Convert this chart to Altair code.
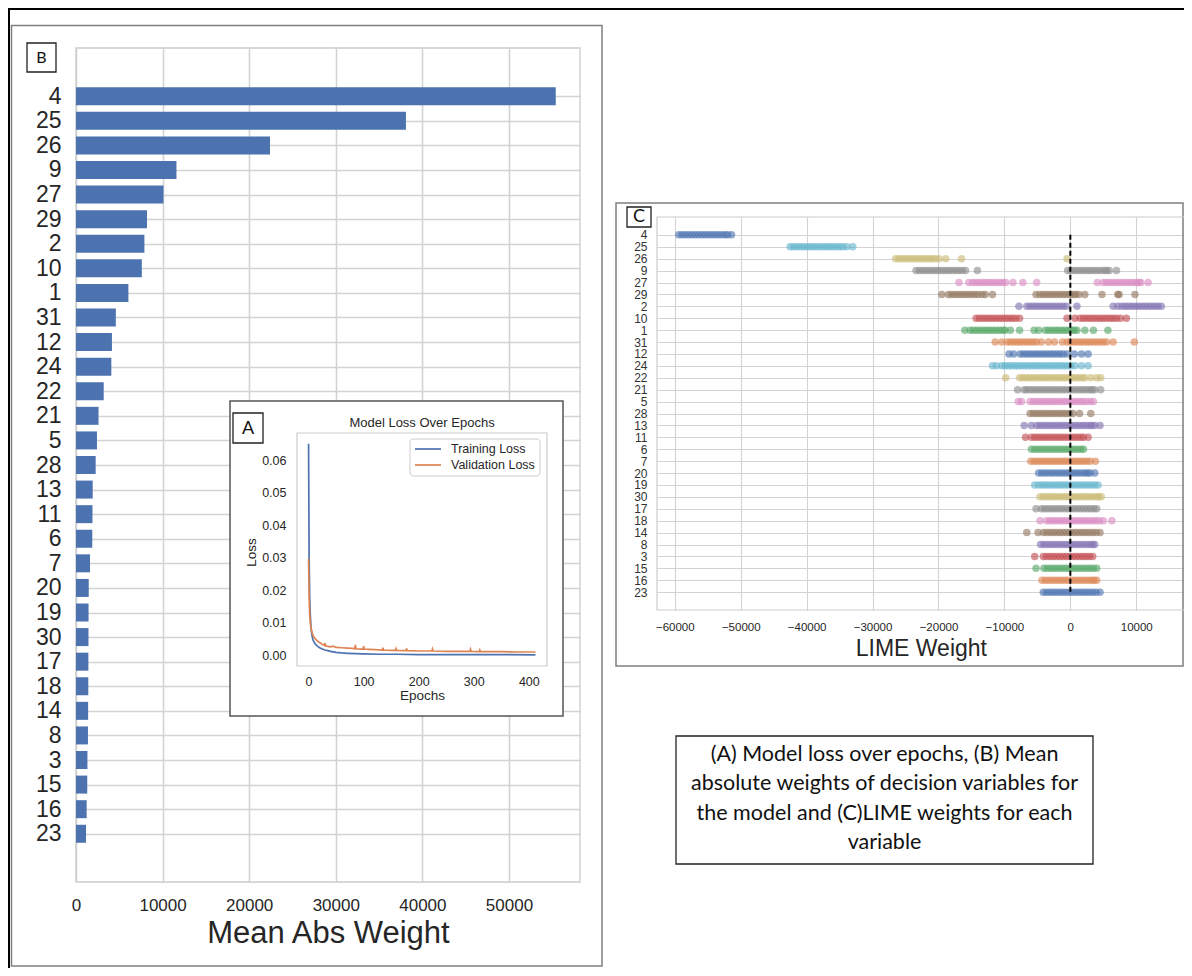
import altair as alt
import pandas as pd

# ---------------- canvas ----------------
W, H = 1176, 960


def px(x):
    return x - 8


def py(y):
    return y - 8


FONT = "Liberation Sans"
BOXFONT = "Lato"
TXT = "#262626"
GRID = "#d3d3d3"

# ---------------- data ----------------
categories = ["4", "25", "26", "9", "27", "29", "2", "10", "1", "31", "12", "24", "22", "21", "5",
              "28", "13", "11", "6", "7", "20", "19", "30", "17", "18", "14", "8", "3", "15", "16", "23"]
mean_abs_weight = [55400, 38100, 22400, 11600, 10100, 8200, 7900, 7600, 6050, 4600, 4150, 4080, 3200,
                   2600, 2420, 2270, 1930, 1900, 1880, 1620, 1470, 1450, 1440, 1430, 1420, 1400, 1380,
                   1320, 1300, 1230, 1160]
b_ticks = [0, 10000, 20000, 30000, 40000, 50000]

series_names = ["Training Loss", "Validation Loss"]
train_epochs = [0, 1, 2, 3, 4, 5, 6, 7, 8, 10, 12, 14, 16, 20, 25, 30, 35, 40, 50, 60, 70, 85, 100,
                130, 160, 200, 250, 300, 350, 412]
train_loss = [0.0650, 0.0300, 0.0185, 0.0130, 0.0098, 0.0078, 0.0064, 0.0055, 0.0049, 0.0041, 0.0036,
              0.0032, 0.0029, 0.0024, 0.0020, 0.0017, 0.0015, 0.0013, 0.0010, 0.0008, 0.0007, 0.0006,
              0.0005, 0.0004, 0.0004, 0.0003, 0.0003, 0.0003, 0.0003, 0.0002]
val_epochs = [0, 1, 2, 3, 4, 5, 6, 8, 10, 12, 14, 16, 20, 25, 29, 30, 31, 35, 40, 45, 50, 60, 70, 80,
              84, 85, 86, 95, 99, 100, 101, 110, 120, 134, 135, 136, 150, 158, 159, 160, 177, 178, 179,
              200, 224, 225, 226, 250, 275, 293, 294, 295, 310, 311, 312, 330, 350, 380, 400, 412]
val_loss = [0.0297, 0.0180, 0.0130, 0.0105, 0.0090, 0.0080, 0.0072, 0.0062, 0.0056, 0.0052, 0.0048,
            0.0045, 0.0040, 0.0035, 0.0031, 0.0038, 0.0030, 0.0028, 0.0027, 0.0029, 0.0025, 0.0024,
            0.0023, 0.0022, 0.0021, 0.0033, 0.0021, 0.0020, 0.0020, 0.0029, 0.0020, 0.0019, 0.0018,
            0.0017, 0.0024, 0.0017, 0.0016, 0.0016, 0.0021, 0.0016, 0.0015, 0.0022, 0.0015, 0.0014,
            0.0014, 0.0020, 0.0014, 0.0013, 0.0013, 0.0013, 0.0019, 0.0013, 0.0012, 0.0017, 0.0012,
            0.0012, 0.0012, 0.0011, 0.0011, 0.0011]
a_x_ticks = [0, 100, 200, 300, 400]
a_y_ticks = [0.0, 0.01, 0.02, 0.03, 0.04, 0.05, 0.06]

# LIME weights (thousands), one list per variable in `categories` order
lime_weights_k = [
    [-59.4, -58.9, -58.4, -57.9, -57.4, -56.9, -56.4, -55.9, -55.4, -54.9, -54.4, -53.9, -53.4, -52.9, -52.4, -52.0, -51.4],
    [-42.5, -42.0, -41.5, -41.0, -40.5, -40.0, -39.5, -39.0, -38.5, -38.0, -37.5, -37.0, -36.5, -36.0, -35.5, -35.0, -34.5, -33.9, -33.0],
    [-26.5, -26.0, -25.5, -25.0, -24.5, -24.0, -23.5, -23.0, -22.5, -22.0, -21.5, -21.0, -20.5, -19.9, -18.9, -16.5, -0.5],
    [-23.4, -22.9, -22.4, -21.9, -21.4, -20.9, -20.4, -19.9, -19.4, -18.9, -18.4, -17.9, -17.4, -16.9, -16.4, -15.9, -14.1,
     -0.4, 0.1, 0.6, 1.1, 1.6, 2.1, 2.6, 3.1, 3.6, 4.1, 4.6, 5.1, 5.5, 5.9, 7.0],
    [-16.9, -15.4, -14.8, -14.3, -13.8, -13.3, -12.8, -12.3, -11.8, -11.3, -10.8, -10.3, -9.8, -8.7, -7.2, -5.1,
     4.1, 5.0, 5.5, 6.0, 6.5, 7.0, 7.5, 8.0, 8.5, 9.0, 9.5, 10.0, 10.4, 10.7, 11.8],
    [-19.5, -18.5, -18.0, -17.5, -17.0, -16.5, -16.0, -15.5, -15.0, -14.5, -14.0, -13.4, -12.9, -11.8, -5.2, -4.6,
     -4.1, -3.6, -3.1, -2.6, -2.1, -1.6, -1.1, -0.6, -0.1, 0.4, 0.8, 1.3, 2.2, 4.8, 7.2, 7.4, 9.8],
    [-7.8, -6.6, -6.1, -5.6, -5.1, -4.6, -4.1, -3.6, -3.1, -2.6, -2.1, -1.6, -1.1, -0.6, 1.0, 6.5, 7.2, 7.8, 8.3,
     8.8, 9.3, 9.8, 10.3, 10.8, 11.3, 11.8, 12.3, 12.8, 13.3, 13.8],
    [-14.3, -13.8, -13.3, -12.8, -12.3, -11.8, -11.3, -10.8, -10.3, -9.8, -9.3, -8.8, -8.3, -7.7, -0.5, 0.7, 1.5,
     2.0, 2.5, 3.0, 3.5, 4.0, 4.5, 5.0, 5.5, 6.0, 6.5, 7.0, 7.6, 8.5],
    [-16.0, -15.2, -14.7, -14.2, -13.7, -13.2, -12.7, -12.2, -11.7, -11.2, -10.7, -10.2, -9.9, -9.1, -7.7, -5.5,
     -4.8, -3.8, -3.3, -2.8, -2.3, -1.8, -1.3, -0.8, -0.3, 0.2, 0.6, 1.0, 2.2, 3.5, 5.7],
    [-11.4, -10.4, -9.6, -9.1, -8.6, -8.1, -7.6, -7.1, -6.6, -6.1, -5.6, -5.1, -4.4, -3.3, -2.4, -1.2, -0.5, 0.0,
     0.5, 1.0, 1.5, 2.0, 2.5, 3.0, 3.5, 4.0, 4.5, 5.0, 5.5, 6.5, 9.7],
    [-9.3, -8.6, -7.6, -7.1, -6.6, -6.1, -5.6, -5.1, -4.6, -4.1, -3.6, -3.1, -2.6, -2.1, -1.6, -1.1, -0.5, 0.6, 1.7, 2.7],
    [-11.8, -11.2, -10.4, -9.9, -9.4, -8.9, -8.4, -7.9, -7.4, -6.9, -6.4, -5.9, -5.4, -4.9, -4.4, -3.9, -3.4, -2.9,
     -2.4, -1.9, -1.4, -0.9, -0.4, 0.1, 0.7, 1.7, 2.7],
    [-9.8, -7.7, -7.2, -6.7, -6.2, -5.7, -5.2, -4.7, -4.2, -3.7, -3.2, -2.7, -2.2, -1.7, -1.2, -0.7, -0.2, 0.3, 0.8,
     1.3, 1.8, 2.2, 3.1, 4.0, 4.6],
    [-8.0, -7.0, -6.6, -6.1, -5.6, -5.1, -4.6, -4.1, -3.6, -3.1, -2.6, -2.1, -1.6, -1.1, -0.6, -0.1, 0.4, 0.9, 1.4,
     1.9, 2.4, 2.9, 3.3, 3.7, 4.6],
    [-7.9, -7.4, -6.1, -5.6, -5.1, -4.6, -4.1, -3.6, -3.1, -2.6, -2.1, -1.6, -1.1, -0.6, -0.1, 0.4, 0.9, 1.4, 1.9,
     2.4, 3.0, 3.5],
    [-6.1, -5.6, -5.1, -4.6, -4.1, -3.6, -3.1, -2.6, -2.1, -1.6, -1.1, -0.6, -0.1, 0.4, 1.4, 3.1],
    [-7.0, -5.9, -5.1, -4.6, -4.1, -3.6, -3.1, -2.6, -2.1, -1.6, -1.1, -0.6, -0.1, 0.4, 0.9, 1.4, 1.9, 2.4, 2.9,
     3.3, 3.7, 4.5],
    [-6.8, -5.9, -5.4, -4.9, -4.4, -3.9, -3.4, -2.9, -2.4, -1.9, -1.4, -0.9, -0.4, 0.1, 0.6, 1.1, 1.6, 2.0, 2.7],
    [-5.9, -5.4, -4.9, -4.4, -3.9, -3.4, -2.9, -2.4, -1.9, -1.4, -0.9, -0.4, 0.1, 0.6, 1.1, 1.6, 2.0],
    [-6.0, -5.5, -5.0, -4.5, -4.0, -3.5, -3.0, -2.5, -2.0, -1.5, -1.0, -0.5, 0.0, 0.5, 1.0, 1.5, 2.0, 2.5, 3.0, 3.8],
    [-4.8, -4.3, -3.8, -3.3, -2.8, -2.3, -1.8, -1.3, -0.8, -0.3, 0.2, 0.7, 1.2, 1.7, 2.2, 2.6, 3.0, 3.7],
    [-5.4, -4.8, -4.3, -3.8, -3.3, -2.8, -2.3, -1.8, -1.3, -0.8, -0.3, 0.2, 0.7, 1.2, 1.7, 2.2, 2.7, 3.2, 3.7, 4.2],
    [-4.6, -4.1, -3.6, -3.1, -2.6, -2.1, -1.6, -1.1, -0.6, -0.1, 0.4, 0.9, 1.4, 1.9, 2.4, 2.9, 3.4, 3.9, 4.3, 4.7],
    [-5.2, -4.4, -3.9, -3.4, -2.9, -2.4, -1.9, -1.4, -0.9, -0.4, 0.1, 0.6, 1.1, 1.6, 2.1, 2.6, 3.1, 3.6, 4.0],
    [-4.6, -3.6, -3.1, -2.6, -2.1, -1.6, -1.1, -0.6, -0.1, 0.4, 0.9, 1.4, 1.9, 2.4, 2.9, 3.4, 3.9, 4.4, 5.0, 6.3],
    [-6.6, -4.9, -4.1, -3.6, -3.1, -2.6, -2.1, -1.6, -1.1, -0.6, -0.1, 0.4, 0.9, 1.4, 1.9, 2.4, 2.9, 3.4, 3.9, 4.5],
    [-4.5, -4.0, -3.5, -3.0, -2.5, -2.0, -1.5, -1.0, -0.5, 0.0, 0.5, 1.0, 1.5, 2.0, 2.5, 3.0, 3.4, 3.7],
    [-5.4, -4.1, -3.6, -3.1, -2.6, -2.1, -1.6, -1.1, -0.6, -0.1, 0.4, 0.9, 1.4, 1.9, 2.4, 2.9, 3.4],
    [-5.2, -4.0, -3.5, -3.0, -2.5, -2.0, -1.5, -1.0, -0.5, 0.0, 0.5, 1.0, 1.5, 2.0, 2.5, 3.0, 3.5, 4.0],
    [-4.3, -3.8, -3.3, -2.8, -2.3, -1.8, -1.3, -0.8, -0.3, 0.2, 0.7, 1.2, 1.7, 2.2, 2.7, 3.2, 3.6, 4.0],
    [-4.1, -3.6, -3.1, -2.6, -2.1, -1.6, -1.1, -0.6, -0.1, 0.4, 0.9, 1.4, 1.9, 2.4, 2.9, 3.4, 3.9, 4.5],
]
c_x_ticks = [-60000, -50000, -40000, -30000, -20000, -10000, 0, 10000]

palette = ["#4C72B0", "#DD8452", "#55A868", "#C44E52", "#8172B3",
           "#937860", "#DA8BC3", "#8C8C8C", "#CCB974", "#64B5CD"]

caption_lines = ["(A) Model loss over epochs, (B) Mean",
                 "absolute weights of decision variables for",
                 "the model and (C)LIME weights for each",
                 "variable"]

n = len(categories)
label_expr = "[" + ",".join("'%s'" % c for c in categories) + "][datum.value]"

# ---------------- helpers for decorations ----------------


def box(x0, y0, x1, y1, stroke, width, fill=None, radius=0):
    kw = dict(stroke=stroke, strokeWidth=width, cornerRadius=radius)
    if fill is None:
        kw["fillOpacity"] = 0
        kw["fill"] = "white"
    else:
        kw["fill"] = fill
    return alt.Chart().mark_rect(**kw).encode(
        x=alt.value(px(x0)), x2=alt.value(px(x1)),
        y=alt.value(py(y0)), y2=alt.value(py(y1)))


def label(txt, x, y, size, font=FONT, align="center", color=TXT):
    return alt.Chart().mark_text(text=txt, font=font, fontSize=size, align=align,
                                 baseline="middle", color=color).encode(
        x=alt.value(px(x)), y=alt.value(py(y)))


# ---------------- Panel B: bars ----------------
df_b = pd.DataFrame({"variable": categories, "idx": list(range(n)), "weight": mean_abs_weight})
xB = alt.Scale(domain=[0, 58200], range=[px(76), px(580)], nice=False, padding=0)
yB = alt.Scale(domain=[-1.95, n - 1 + 1.95], range=[py(48.3), py(881.7)], nice=False, zero=False, padding=0)

bars = alt.Chart(df_b).mark_bar(color="#4C72B0", orient="horizontal", size=18).encode(
    x=alt.X("weight:Q", scale=xB,
            axis=alt.Axis(orient="top", offset=-py(882), values=b_ticks, format="d",
                          grid=True, gridColor=GRID, gridWidth=1.6, domain=False, ticks=False,
                          tickSize=0, labelPadding=-15, labelBaseline="top", labelFlush=False,
                          labelFont=FONT, labelFontSize=17, labelColor=TXT,
                          title="Mean Abs Weight", titleFont=FONT, titleFontSize=31,
                          titleFontWeight="normal", titleColor=TXT,
                          titleX=(px(76) + px(580)) / 2, titleY=942 - 882,
                          titleBaseline="alphabetic", titleAlign="center", titleAngle=0)),
    y=alt.Y("idx:Q", scale=yB,
            axis=alt.Axis(orient="left", offset=-px(76), values=list(range(n)), labelExpr=label_expr,
                          grid=True, gridColor=GRID, gridWidth=1.6, domain=False, ticks=False,
                          tickSize=0, labelPadding=15, labelOverlap=False, labelFlush=False,
                          labelFont=FONT, labelFontSize=23, labelColor=TXT, title=None)),
)

# ---------------- Panel A: loss curves ----------------
df_a = pd.concat([
    pd.DataFrame({"epoch": train_epochs, "loss": train_loss, "series": series_names[0]}),
    pd.DataFrame({"epoch": val_epochs, "loss": val_loss, "series": series_names[1]}),
])
lines = alt.Chart(df_a).mark_line(strokeWidth=1.7).encode(
    x=alt.X("epoch:Q", scale=alt.Scale(domain=[-21, 433], range=[px(297), px(547)], nice=False, padding=0),
            axis=alt.Axis(orient="bottom", offset=py(666) - H, values=a_x_ticks, grid=False,
                          domain=False, ticks=False, tickSize=0, labelPadding=9, labelFlush=False,
                          labelFont=FONT, labelFontSize=12.5, labelColor=TXT, zindex=1,
                          title="Epochs", titleFont=FONT, titleFontSize=13.5, titleFontWeight="normal",
                          titleColor=TXT, titleX=(px(297) + px(547)) / 2, titleY=699 - 666,
                          titleBaseline="alphabetic", titleAlign="center")),
    y=alt.Y("loss:Q", scale=alt.Scale(domain=[-0.0032, 0.0683], range=[py(666), py(433)], nice=False, padding=0),
            axis=alt.Axis(orient="left", offset=-px(297), values=a_y_ticks, format=".2f", grid=False,
                          domain=False, ticks=False, tickSize=0, labelPadding=11, labelFlush=False,
                          labelFont=FONT, labelFontSize=12.5, labelColor=TXT, zindex=1,
                          title="Loss", titleFont=FONT, titleFontSize=13.5, titleFontWeight="normal",
                          titleColor=TXT, titleX=251 - 297, titleY=py(552), titleAngle=270,
                          titleBaseline="middle", titleAlign="center")),
    color=alt.Color("series:N", scale=alt.Scale(domain=series_names, range=[palette[0], palette[1]]),
                    legend=None),
)

# ---------------- Panel C: LIME scatter ----------------
rows = []
for i, (cat, vals) in enumerate(zip(categories, lime_weights_k)):
    for v in vals:
        rows.append({"variable": cat, "idx": i, "lime": v * 1000})
df_c = pd.DataFrame(rows)
cat_colors = [palette[(n - 1 - i) % 10] for i in range(n)]
xC = alt.Scale(domain=[-62700, 17350], range=[px(657), px(1184.7)], nice=False, padding=0)
yC = alt.Scale(domain=[-1.5, n + 0.5], range=[py(217), py(610)], nice=False, zero=False, padding=0)

points = alt.Chart(df_c).mark_circle(size=56, opacity=0.62).encode(
    x=alt.X("lime:Q", scale=xC,
            axis=alt.Axis(orient="top", offset=-py(610), values=c_x_ticks, format="d",
                          grid=True, gridColor=GRID, gridWidth=1.1, domain=False, ticks=False,
                          tickSize=0, labelPadding=-11, labelBaseline="top", labelFlush=False,
                          labelOverlap=False, labelFont=FONT, labelFontSize=11.5, labelColor=TXT,
                          title="LIME Weight", titleFont=FONT, titleFontSize=23,
                          titleFontWeight="normal", titleColor=TXT,
                          titleX=(px(657) + px(1184.7)) / 2, titleY=655 - 610,
                          titleBaseline="alphabetic", titleAlign="center", titleAngle=0)),
    y=alt.Y("idx:Q", scale=yC,
            axis=alt.Axis(orient="left", offset=-px(657), values=list(range(n)), labelExpr=label_expr,
                          grid=True, gridColor=GRID, gridWidth=1.1, domain=False, ticks=False,
                          tickSize=0, labelPadding=10, labelOverlap=False, labelFlush=False,
                          labelFont=FONT, labelFontSize=12, labelColor="#333333", title=None)),
    color=alt.Color("variable:N", scale=alt.Scale(domain=categories, range=cat_colors), legend=None),
)

df_rule = pd.DataFrame({"lime": [0.0], "first": [0], "last": [n - 1]})
zero_rule = alt.Chart(df_rule).mark_rule(color="black", strokeDash=[5, 3], strokeWidth=2).encode(
    x=alt.X("lime:Q", scale=xC, axis=None),
    y=alt.Y("first:Q", scale=yC, axis=None),
    y2="last:Q",
)

# ---------------- legend for panel A ----------------
leg_frame = box(410, 439, 540, 476, "#cccccc", 1, fill="white", radius=3)
leg_l1 = alt.Chart().mark_rule(color=palette[0], strokeWidth=1.7).encode(
    x=alt.value(px(415)), x2=alt.value(px(441)), y=alt.value(py(449)))
leg_l2 = alt.Chart().mark_rule(color=palette[1], strokeWidth=1.7).encode(
    x=alt.value(px(415)), x2=alt.value(px(441)), y=alt.value(py(465)))
leg_t1 = label(series_names[0], 451, 449, 12.5, align="left")
leg_t2 = label(series_names[1], 451, 465, 12.5, align="left")

layers = [
    box(9, 9, 1300, 1300, "black", 2),                      # outer figure border
    box(11.5, 25.5, 602, 966, "#7f7f7f", 1.5),               # panel B frame
    box(616, 203, 1183, 666, "#7f7f7f", 1.5),                # panel C frame
    box(76, 48, 580, 882, "#cccccc", 1.3),                   # B plot frame
    bars,
    box(230, 401, 563, 716, "#555555", 1.5, fill="white"),   # panel A frame
    box(297, 433, 547, 666, "#cccccc", 1.2),                 # A plot frame
    lines,
    label("Model Loss Over Epochs", 422, 423, 13),
    leg_frame, leg_l1, leg_l2, leg_t1, leg_t2,
    box(233, 413, 263, 443, "#222222", 1.3, fill="white"),
    label("A", 248, 428.5, 18, font=BOXFONT, color="#111111"),
    box(27, 43, 56, 72, "#222222", 1.3, fill="white"),
    label("B", 41.5, 57.5, 16, font=BOXFONT, color="#111111"),
    box(657, 217, 1184.7, 610, "#cccccc", 1.2),              # C plot frame
    points,
    zero_rule,
    box(627, 207, 651, 227, "#222222", 1.3, fill="white"),
    label("C", 639, 217, 18, font=BOXFONT, color="#111111"),
    box(676, 736, 1093, 864, "#222222", 1.3, fill="white"),  # caption box
    alt.Chart().mark_text(text=caption_lines, font=BOXFONT, fontSize=21.5, lineHeight=29.3,
                          align="center", baseline="middle", color="#111111").encode(
        x=alt.value(px(884.5)), y=alt.value(py(755))),
]

chart = alt.layer(*layers).resolve_scale(
    x="independent", y="independent", color="independent"
).properties(
    width=W, height=H, padding=0, background="white",
    autosize=alt.AutoSizeParams(type="none"),
).configure_view(stroke=None)

chart.save("out.html", embed_options={"renderer": "svg", "actions": False})
